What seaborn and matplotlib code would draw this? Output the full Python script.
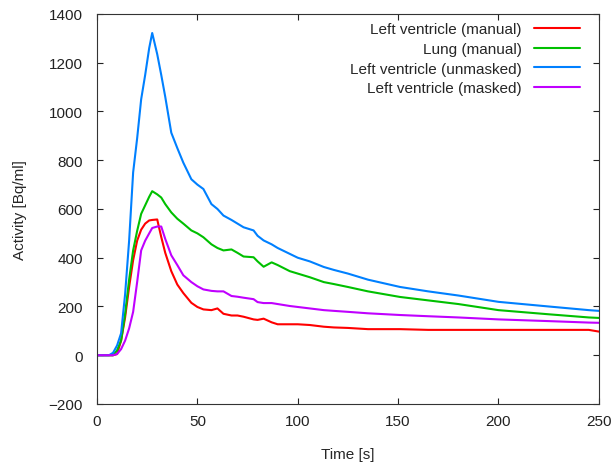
import numpy as np
import pandas as pd
import seaborn as sns
import matplotlib
matplotlib.use('Agg')
import matplotlib.pyplot as plt

# frame mid times [s]
time = [0, 6, 8, 10, 12, 14, 16, 18, 20, 22, 24, 26, 27.5, 30, 32, 34, 37, 40, 43, 47,
        50, 53, 57, 60, 63, 67, 70, 73, 78, 80, 83, 87, 90, 96, 100, 106, 113, 118, 125,
        135, 151, 165, 180, 200, 225, 245, 250]

lv_manual = [0, 0, 0, 5, 60, 155, 280, 390, 470, 515, 540, 553, 555, 557, 485, 420, 345, 290,
             255, 215, 198, 188, 185, 192, 170, 163, 163, 158, 147, 145, 150, 135, 127, 127,
             127, 124, 117, 114, 112, 107, 107, 104, 104, 104, 104, 104, 97]
lung_manual = [0, 0, 0, 20, 60, 170, 310, 430, 510, 580, 615, 650, 673, 660, 647, 620, 586, 560,
               540, 512, 500, 484, 455, 440, 430, 434, 420, 405, 402, 385, 363, 381, 370, 345,
               335, 320, 300, 292, 280, 262, 239, 225, 210, 185, 168, 155, 153]
lv_unmasked = [0, 0, 10, 40, 90, 250, 470, 750, 890, 1050, 1150, 1260, 1322, 1235, 1150, 1060,
               913, 850, 790, 722, 700, 682, 620, 600, 573, 555, 540, 525, 512, 490, 471, 455,
               440, 416, 400, 385, 362, 350, 335, 310, 280, 262, 245, 219, 200, 185, 182]
lv_masked = [0, 0, 0, 5, 25, 60, 110, 178, 300, 430, 470, 500, 522, 528, 528, 477, 410, 370,
             328, 300, 283, 270, 264, 262, 262, 243, 240, 236, 230, 218, 214, 214, 210, 202,
             198, 192, 185, 182, 178, 172, 165, 160, 155, 147, 140, 134, 133]

labels = ['Left ventricle (manual)', 'Lung (manual)',
          'Left ventricle (unmasked)', 'Left ventricle (masked)']
colors = ['#ff0000', '#00c000', '#0080ff', '#c000ff']

df = pd.concat([
    pd.DataFrame({'Time': time, 'Activity': vals, 'series': lab})
    for lab, vals in zip(labels, [lv_manual, lung_manual, lv_unmasked, lv_masked])
])

sns.set_style('ticks')
plt.rcParams['font.family'] = ['Liberation Sans', 'DejaVu Sans']
plt.rcParams['font.size'] = 11

fig = plt.figure(figsize=(6.12, 4.64), dpi=100)
ax = fig.add_axes([0.1585, 0.1272, 0.820, 0.8405])

sns.lineplot(data=df, x='Time', y='Activity', hue='series', hue_order=labels,
             palette=colors, linewidth=1.5, ax=ax, sort=False)

ax.set_xlim(0, 250)
ax.set_ylim(-200, 1400)
ax.set_xticks(np.arange(0, 251, 50))
ax.set_yticks(np.arange(-200, 1401, 200))
ax.tick_params(direction='in', length=4, width=0.8, top=True, right=True,
               labelsize=11, colors='#222222')
ax.tick_params(axis='x', pad=7)
ax.tick_params(axis='y', pad=10)
for s in ax.spines.values():
    s.set_visible(True)
    s.set_linewidth(0.8)
    s.set_color('#333333')

ax.set_xlabel('Time [s]', fontsize=11, labelpad=14)
ax.set_ylabel('Activity [Bq/ml]', fontsize=11, labelpad=16)

leg = ax.legend(loc='upper right', bbox_to_anchor=(0.974, 0.995), borderaxespad=0,
                frameon=False, markerfirst=False, fontsize=11,
                handlelength=3.0, labelspacing=0.38, handletextpad=0.8)

fig.savefig('out.png', dpi=100)
